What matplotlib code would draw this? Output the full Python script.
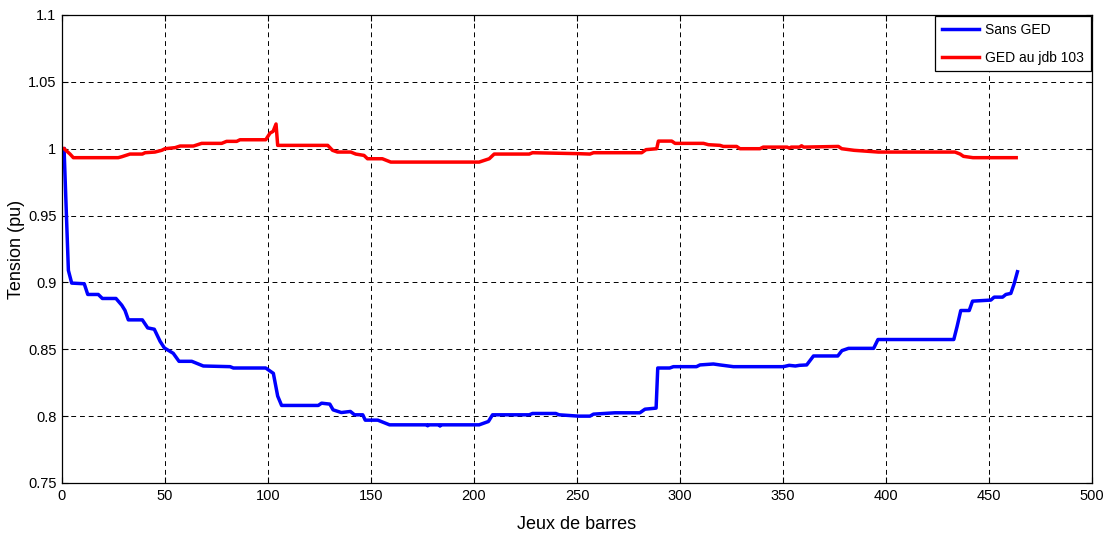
import matplotlib
matplotlib.use('Agg')
import matplotlib.pyplot as plt

plt.rcParams['font.family'] = ['Liberation Sans', 'DejaVu Sans']

# breakpoints (bus index, voltage pu)
sans_x = [1, 3.1, 4.7, 10.8, 12.5, 17.6, 19.6, 26.2, 29, 30.6, 32.2, 39, 41.6, 44.8,
          47.6, 49.7, 54, 56.8, 63, 68.6, 81.6, 83.2, 98.9, 102.6, 104.7, 106.6,
          124.4, 126, 130, 131.6, 135.6, 140, 142, 146, 147.2, 153.3, 159, 177, 177.5,
          178, 183, 183.5, 184, 202.5, 207, 209, 226.8, 228.4, 239.7, 241.3, 250.8,
          256.3, 258, 268.4, 280.5, 283, 288.4, 289.2, 295, 296.8, 308, 309.7, 316.2,
          319.4, 325.9, 350.2, 353, 356, 358, 361.5, 364.8, 376.6, 378.6, 381.8, 394,
          396.1, 432.9, 434.5, 436.3, 440.4, 442, 450.9, 452.5, 456.6, 458.2, 460.6,
          462.2, 463.8]
sans_y = [1.0, 0.909, 0.8995, 0.899, 0.891, 0.891, 0.888, 0.888, 0.883, 0.879, 0.872,
          0.872, 0.866, 0.865, 0.856, 0.851, 0.847, 0.841, 0.841, 0.8375, 0.837, 0.836,
          0.836, 0.832, 0.815, 0.808, 0.808, 0.8097, 0.809, 0.8047, 0.8027, 0.8035,
          0.801, 0.801, 0.797, 0.797, 0.7935, 0.7935, 0.7928, 0.7935, 0.7935, 0.7926,
          0.7935, 0.7935, 0.796, 0.801, 0.801, 0.802, 0.802, 0.801, 0.80, 0.80, 0.8015,
          0.8025, 0.8025, 0.8052, 0.806, 0.836, 0.836, 0.837, 0.837, 0.8383, 0.839,
          0.8383, 0.837, 0.837, 0.838, 0.8375, 0.838, 0.8383, 0.845, 0.845, 0.849,
          0.8507, 0.8507, 0.8573, 0.8573, 0.867, 0.879, 0.879, 0.886, 0.8868, 0.889,
          0.889, 0.891, 0.8918, 0.899, 0.908]

ged_x = [1, 3.9, 5.5, 27.3, 29, 33, 39, 40.3, 45.1, 48.4, 50, 54.9, 57.3, 63.8, 67.8,
         77.5, 79.9, 84.8, 86.4, 98.9, 101, 102.5, 103.9, 104.7, 127.7, 129, 131.3,
         133.7, 140.2, 142.6, 146.6, 148.3, 155.5, 159.6, 202.5, 207.4, 209.8, 226.8,
         228.4, 250.6, 256.3, 258, 281.4, 283.5, 288.7, 289.5, 296, 297.6, 311.4,
         313.8, 319.4, 321, 327.5, 329.1, 338.8, 340.4, 352, 353, 354, 358, 359, 360,
         376.9, 378.5, 384.5, 396.3, 433.5, 436, 437.6, 442.2, 463.2]
ged_y = [1.0, 0.996, 0.9933, 0.9933, 0.994, 0.996, 0.996, 0.997, 0.9975, 0.9988, 1.0,
         1.0008, 1.002, 1.002, 1.004, 1.004, 1.0055, 1.0055, 1.0067, 1.0067, 1.0117,
         1.013, 1.0185, 1.0025, 1.0025, 1.0025, 0.9988, 0.9975, 0.9975, 0.996, 0.995,
         0.9925, 0.9925, 0.990, 0.990, 0.9925, 0.996, 0.996, 0.997, 0.9963, 0.996,
         0.997, 0.997, 0.9993, 1.0, 1.0057, 1.0057, 1.004, 1.004, 1.003, 1.0025,
         1.0017, 1.0017, 1.0, 1.0, 1.0012, 1.0012, 1.0005, 1.0012, 1.0012, 1.0022,
         1.0012, 1.0017, 1.0, 0.9988, 0.9975, 0.9975, 0.996, 0.9943, 0.9933, 0.9933]

xticks = [0, 50, 100, 150, 200, 250, 300, 350, 400, 450, 500]
yticks = [0.75, 0.8, 0.85, 0.9, 0.95, 1.0, 1.05, 1.1]
ytick_labels = ['0.75', '0.8', '0.85', '0.9', '0.95', '1', '1.05', '1.1']

fig = plt.figure(figsize=(11.1, 5.35), dpi=100)
ax = fig.add_axes([62 / 1110, 1 - 483 / 535, 1030 / 1110, 468 / 535])

ax.plot(sans_x, sans_y, color='#0000ff', lw=2.5, label='Sans GED')
ax.plot(ged_x, ged_y, color='#ff0000', lw=2.5, label='GED au jdb 103')

ax.set_xlim(0, 500)
ax.set_ylim(0.75, 1.1)
ax.set_xticks(xticks)
ax.set_yticks(yticks)
ax.set_yticklabels(ytick_labels)
ax.tick_params(direction='in', top=True, right=True, length=4, width=0.8,
               labelsize=10.5, pad=4)
ax.grid(True, color='black', linestyle=(0, (5, 4)), linewidth=0.7)
for s in ax.spines.values():
    s.set_linewidth(0.9)

ax.set_xlabel('Jeux de barres', fontsize=13, labelpad=10)
ax.set_ylabel('Tension (pu)', fontsize=13)
ax.yaxis.set_label_coords(-0.036, 0.5)

leg = ax.legend(loc='upper right', fontsize=10, fancybox=False, framealpha=1,
                edgecolor='black', borderaxespad=0.1, handlelength=2.7,
                handletextpad=0.4, borderpad=0.5, labelspacing=0.95)
leg.get_frame().set_linewidth(0.9)

fig.savefig('out.png', dpi=100)
